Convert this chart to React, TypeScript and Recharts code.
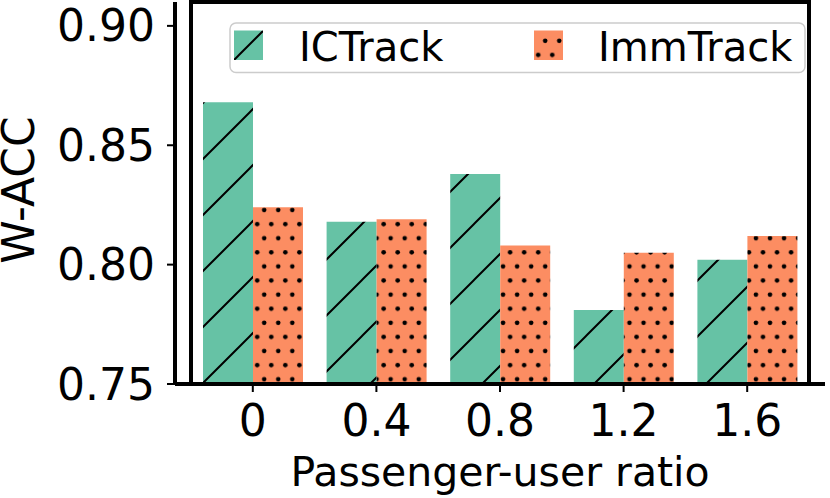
import { BarChart, Bar, XAxis, YAxis, ReferenceArea } from "recharts";

// passenger-user ratio categories and W-ACC per method
const ratios = ["0", "0.4", "0.8", "1.2", "1.6"];
const icTrack = [0.868, 0.818, 0.838, 0.781, 0.802];
const immTrack = [0.824, 0.819, 0.808, 0.805, 0.812];
const yTicks = [0.75, 0.8, 0.85, 0.9];

const data = ratios.map((r, i) => ({
  ratio: r,
  ICTrack: icTrack[i],
  ImmTrack: immTrack[i],
}));

const FONT = "'DejaVu Sans', sans-serif";
const GREEN = "#66c2a5";
const ORANGE = "#fc8d62";

const XTick = ({ x, y, payload }: any) => (
  <text
    x={x}
    y={y + 42}
    textAnchor="middle"
    fontSize={44}
    fontFamily={FONT}
    fill="#000"
  >
    {payload.value}
  </text>
);

export default function App() {
  return (
    <div style={{ position: "absolute", left: 0, top: 0 }}>
      <BarChart
        width={830}
        height={498}
        data={data}
        margin={{ top: 2, right: 5, left: 0, bottom: 0 }}
        barSize={50}
        barGap={0}
      >
        <defs>
          <pattern
            id="hatchIC"
            patternUnits="userSpaceOnUse"
            x={26}
            y={0}
            width={56}
            height={56}
          >
            <rect width={56} height={56} fill={GREEN} />
            <path
              d="M0,56 L56,0 M-5,5 L5,-5 M51,61 L61,51"
              stroke="#000"
              strokeWidth={2}
            />
          </pattern>
          <pattern
            id="hatchLegend"
            patternUnits="userSpaceOnUse"
            x={14}
            y={0}
            width={56}
            height={56}
          >
            <rect width={56} height={56} fill={GREEN} />
            <path
              d="M0,56 L56,0 M-5,5 L5,-5 M51,61 L61,51"
              stroke="#000"
              strokeWidth={2}
            />
          </pattern>
          <pattern
            id="dotsImm"
            patternUnits="userSpaceOnUse"
            x={0}
            y={5}
            width={14.05}
            height={28.2}
          >
            <rect width={14.05} height={28.2} fill={ORANGE} />
            <circle cx={11.3} cy={7.6} r={2.3} fill="#000" />
            <circle cx={4.3} cy={21.7} r={2.3} fill="#000" />
          </pattern>
        </defs>
        <XAxis
          dataKey="ratio"
          height={114}
          padding={{ left: 16, right: 16 }}
          tickSize={8}
          tickMargin={2}
          tickLine={{ stroke: "#000", strokeWidth: 2 }}
          axisLine={{ stroke: "#000", strokeWidth: 4 }}
          tick={<XTick />}
          interval={0}
        />
        <YAxis
          width={175}
          domain={[0.75, 0.91]}
          ticks={yTicks}
          allowDataOverflow
          tickSize={8}
          tickMargin={12}
          tickLine={{ stroke: "#000", strokeWidth: 2 }}
          axisLine={{ stroke: "#000", strokeWidth: 4 }}
          tick={{ fontSize: 44, fill: "#000", fontFamily: FONT }}
          tickFormatter={(v: number) => v.toFixed(2)}
        />
        <Bar dataKey="ICTrack" fill="url(#hatchIC)" isAnimationActive={false} />
        <Bar dataKey="ImmTrack" fill="url(#dotsImm)" isAnimationActive={false} />
        <ReferenceArea
          y1={0.75}
          y2={0.91}
          fill="none"
          fillOpacity={0}
          stroke="#000"
          strokeWidth={4}
          ifOverflow="visible"
        />
        {/* axis titles */}
        <text
          x={500}
          y={486}
          textAnchor="middle"
          fontSize={41}
          fontFamily={FONT}
          fill="#000"
        >
          Passenger-user ratio
        </text>
        <text
          x={34}
          y={190}
          textAnchor="middle"
          fontSize={44}
          fontFamily={FONT}
          fill="#000"
          transform="rotate(-90, 34, 190)"
        >
          W-ACC
        </text>
        {/* legend */}
        <rect
          x={230}
          y={23}
          width={575}
          height={49.5}
          rx={6}
          fill="#fff"
          fillOpacity={0.8}
          stroke="#cccccc"
          strokeWidth={1.5}
        />
        <rect x={234} y={30.5} width={29} height={29.5} fill="url(#hatchLegend)" />
        <text x={299} y={60.5} fontSize={40} fontFamily={FONT} fill="#000">
          ICTrack
        </text>
        <rect x={534} y={30.5} width={29} height={29.5} fill="url(#dotsImm)" />
        <text x={598} y={60.5} fontSize={40} fontFamily={FONT} fill="#000">
          ImmTrack
        </text>
      </BarChart>
    </div>
  );
}
